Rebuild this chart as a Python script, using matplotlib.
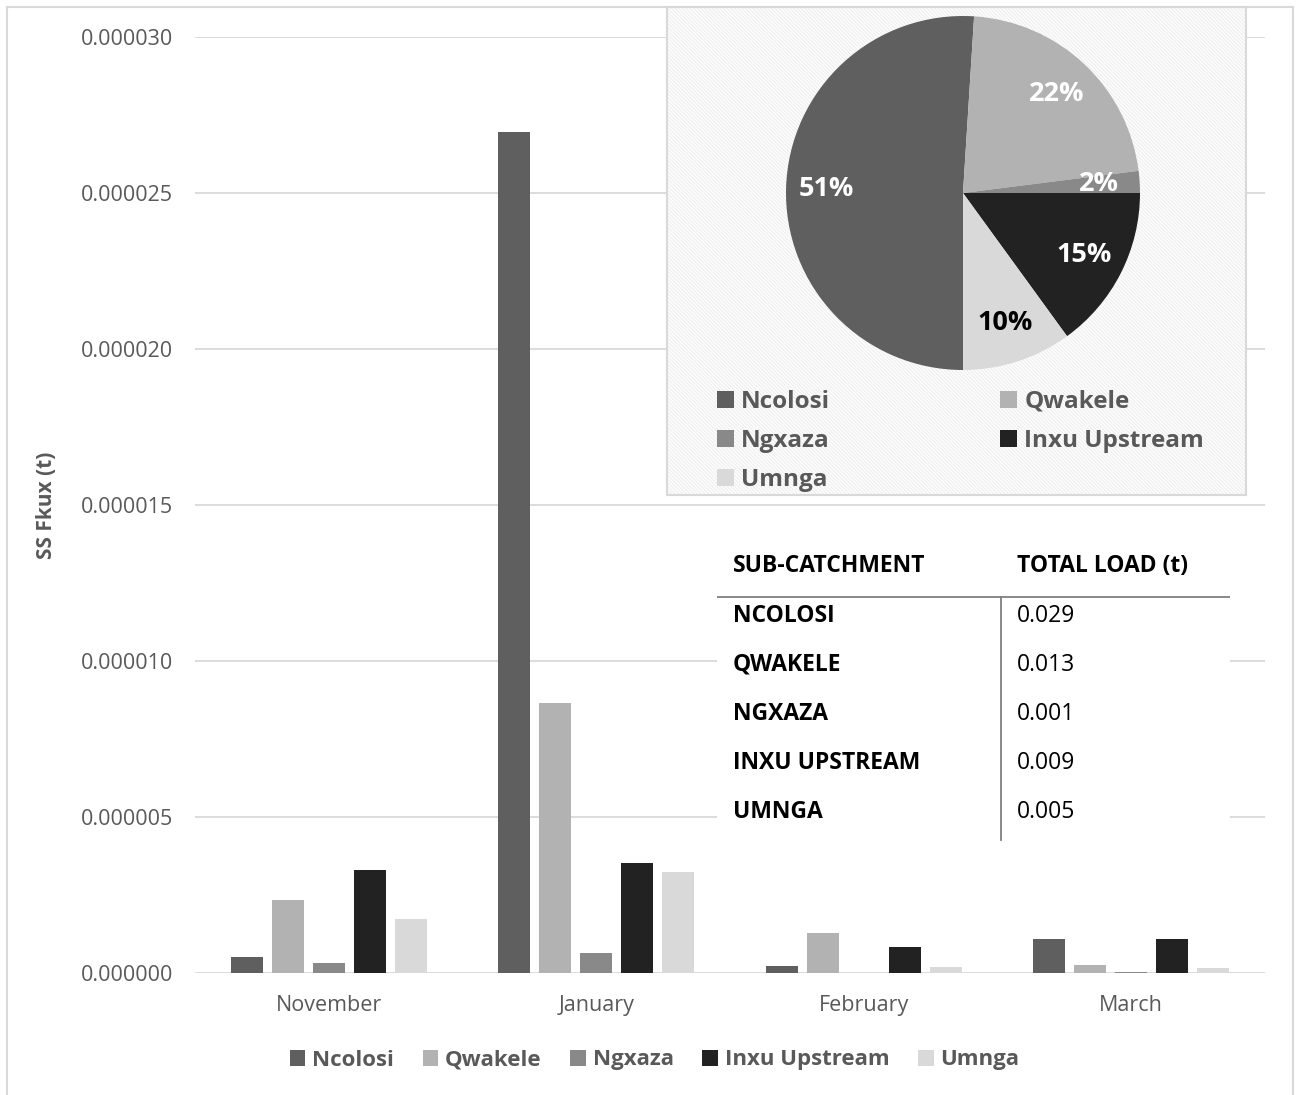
import matplotlib
matplotlib.use('Agg')
import matplotlib.pyplot as plt
from matplotlib.patches import Patch, Rectangle
import numpy as np

plt.rcParams.update({
    'font.family': ['Open Sans', 'DejaVu Sans'],
    'hatch.linewidth': 1.0,
})

# Suspended sediment flux per sub-catchment and month (t)
months = ['November', 'January', 'February', 'March']
sites = ['Ncolosi', 'Qwakele', 'Ngxaza', 'Inxu Upstream', 'Umnga']
ncolosi = [0.52e-6, 26.95e-6, 0.22e-6, 1.10e-6]
qwakele = [2.34e-6, 8.65e-6, 1.27e-6, 0.25e-6]
ngxaza = [0.31e-6, 0.63e-6, 0.0, 0.04e-6]
inxu_upstream = [3.30e-6, 3.52e-6, 0.83e-6, 1.08e-6]
umnga = [1.73e-6, 3.23e-6, 0.20e-6, 0.17e-6]

# share of total load (%)
pie_share = [51, 22, 2, 15, 10]

table_header = ['SUB-CATCHMENT', 'TOTAL LOAD (t)']
table_sites = ['NCOLOSI', 'QWAKELE', 'NGXAZA', 'INXU UPSTREAM', 'UMNGA']
table_loads = ['0.029', '0.013', '0.001', '0.009', '0.005']

colors = ['#5f5f5f', '#b2b2b2', '#898989', '#222222', '#d9d9d9']
TXT = '#595959'
GRID = '#d9d9d9'

W, H = 1296, 1095
fig = plt.figure(figsize=(W / 100, H / 100), dpi=100)


def box(x0, y0, x1, y1):
    # pixel box (top-left origin) -> figure fraction rect
    return [x0 / W, (H - y1) / H, (x1 - x0) / W, (y1 - y0) / H]


# outer frame
fig.patches.append(Rectangle((7 / W, -0.01), (1293 - 7) / W, (H - 7) / H + 0.01,
                             transform=fig.transFigure, fill=False,
                             edgecolor=GRID, linewidth=1.5))

# ---- main grouped bar chart ----
ax = fig.add_axes(box(195, 37, 1265, 973))
series = [ncolosi, qwakele, ngxaza, inxu_upstream, umnga]
x = np.arange(len(months))
pitch, width = 0.1536, 0.12
for i, (vals, c) in enumerate(zip(series, colors)):
    ax.bar(x + (i - 2) * pitch, vals, width, color=c, zorder=3)

ax.set_xlim(-0.5, len(months) - 0.5)
ax.set_ylim(0, 0.000030)
ax.set_yticks(np.arange(0, 0.0000301, 0.000005))
ax.yaxis.set_major_formatter(matplotlib.ticker.FuncFormatter(lambda v, _: f'{v:.6f}'))
ax.set_xticks(x)
ax.set_xticklabels(months)
ax.tick_params(axis='both', length=0, labelsize=15.5, labelcolor=TXT)
ax.tick_params(axis='y', pad=16)
ax.tick_params(axis='x', pad=16)
ax.yaxis.grid(True, color=GRID, linewidth=1.3, zorder=0)
ax.set_axisbelow(True)
for s in ax.spines.values():
    s.set_visible(False)
ax.set_ylabel('SS Fkux (t)', fontsize=15, fontweight='bold', color=TXT)
ax.yaxis.set_label_coords(-0.129, 0.5)

handles = [Patch(facecolor=c, label=s) for c, s in zip(colors, sites)]
leg = fig.legend(handles=handles, loc='center', bbox_to_anchor=(0.505, 1 - 1060 / H),
                 ncol=5, frameon=False, fontsize=16, handlelength=0.7,
                 handleheight=0.7, handletextpad=0.3, columnspacing=1.3)
for t in leg.get_texts():
    t.set_color(TXT)
    t.set_fontweight('bold')

# ---- pie inset with hatched background ----
bg = fig.add_axes(box(667, 7, 1246, 495))
bg.set_xlim(0, 1)
bg.set_ylim(0, 1)
bg.add_patch(Rectangle((0, 0), 1, 1, transform=bg.transAxes, facecolor='white',
                       edgecolor='#f0f0f0', hatch='\\' * 9, linewidth=0))
bg.set_xticks([])
bg.set_yticks([])
for s in bg.spines.values():
    s.set_color(GRID)
    s.set_linewidth(1.5)

pax = fig.add_axes(box(786, 16, 1140, 370))
wedges, _, autotexts = pax.pie(pie_share, colors=colors, startangle=-90, counterclock=False,
                               autopct=lambda p: f'{p:.0f}%', pctdistance=0.77,
                               wedgeprops=dict(linewidth=0),
                               textprops=dict(fontsize=19.5, fontweight='bold', color='white'))
autotexts[4].set_color('black')
pax.set_xlim(-1, 1)
pax.set_ylim(-1, 1)
pax.set_aspect('equal')

# legend rows read Ncolosi/Qwakele, Ngxaza/Inxu Upstream, Umnga
pie_order = [0, 2, 4, 1, 3]
pleg = bg.legend(handles=[handles[k] for k in pie_order], loc='upper left',
                 bbox_to_anchor=(0.069, 0.236), ncol=2, frameon=False, fontsize=17.5,
                 handlelength=0.7, handleheight=0.7, handletextpad=0.3,
                 columnspacing=7.0, labelspacing=0.63, borderaxespad=0)
for t in pleg.get_texts():
    t.set_color(TXT)
    t.set_fontweight('bold')

# ---- load summary table ----
tax = fig.add_axes(box(717, 535, 1230, 845))
tax.set_xlim(0, 513)
tax.set_ylim(310, 0)
tax.set_facecolor('white')
tax.set_xticks([])
tax.set_yticks([])
for s in tax.spines.values():
    s.set_visible(False)
col_x = [16, 300]
tax.text(col_x[0], 31, table_header[0], fontsize=16.5, fontweight='bold', va='center')
tax.text(col_x[1], 31, table_header[1], fontsize=16.5, fontweight='bold', va='center')
tax.plot([0, 513], [62, 62], color='#7f7f7f', linewidth=1.3)
tax.plot([284, 284], [62, 305], color='#7f7f7f', linewidth=1.3)
for i, (name, load) in enumerate(zip(table_sites, table_loads)):
    y = 81 + i * 49
    tax.text(col_x[0], y, name, fontsize=16.5, fontweight='bold', va='center')
    tax.text(col_x[1], y, load, fontsize=16.5, va='center')

fig.savefig('out.png', dpi=100)
